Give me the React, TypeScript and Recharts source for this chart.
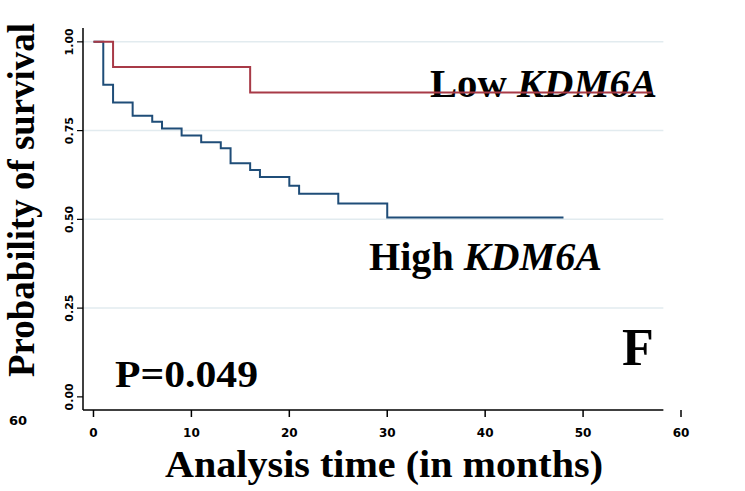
import { LineChart, Line, XAxis, YAxis, ReferenceLine } from "recharts";

// Kaplan-Meier estimates (months, survival probability)
const LOW_TIME = [0, 2, 16, 57];
const LOW_SURV = [1, 0.929, 0.857, 0.857];

const HIGH_TIME = [0, 1, 2, 4, 6, 7, 9, 11, 13, 14, 16, 17, 20, 21, 25, 30, 48];
const HIGH_SURV = [
  1, 0.879, 0.829, 0.792, 0.775, 0.756, 0.736, 0.717, 0.7, 0.658, 0.639, 0.619,
  0.595, 0.572, 0.545, 0.505, 0.505,
];

const MONTH_TICKS = [0, 10, 20, 30, 40, 50, 60];
const SURV_TICKS = [0, 0.25, 0.5, 0.75, 1];
const GRID_LEVELS = [0.25, 0.5, 0.75, 1];

// Stata-style plot region: axis lines sit a little outside the data range
const X_MIN = -1.07;
const X_LINE_END = 58.2;
const Y_MIN = -0.037;
const Y_MAX = 1.039;

const lowData = LOW_TIME.map((t, i) => ({ t, s: LOW_SURV[i] }));
const highData = HIGH_TIME.map((t, i) => ({ t, s: HIGH_SURV[i] }));

const SERIF = '"Liberation Serif", "Times New Roman", serif';
const TICK_FONT = '"DejaVu Sans", sans-serif';

const RED = "#a83a47";
const BLUE = "#1f4d78";

function MonthTick(props: any) {
  const { x, y, payload } = props;
  return (
    <text x={x} y={y + 18} textAnchor="middle" fontFamily={TICK_FONT} fontWeight="bold" fontSize={12} fill="#000">
      {payload.value}
    </text>
  );
}

function SurvTick(props: any) {
  const { x, y, payload } = props;
  const bx = x - 2;
  return (
    <text
      x={bx}
      y={y}
      transform={`rotate(-90, ${bx}, ${y})`}
      textAnchor="middle"
      fontFamily={TICK_FONT}
      fontWeight="bold"
      fontSize={11}
      fill="#000"
    >
      {payload.value.toFixed(2)}
    </text>
  );
}

export default function App() {
  return (
    <div style={{ position: "absolute", left: 0, top: 0, width: 745, height: 491, background: "#fff" }}>
      <LineChart width={745} height={491} margin={{ top: 28, right: 64, bottom: 51, left: 53 }}>
        <XAxis
          type="number"
          dataKey="t"
          domain={[X_MIN, 60]}
          ticks={MONTH_TICKS}
          allowDataOverflow
          axisLine={false}
          tickLine={{ stroke: "#000", strokeWidth: 1.5 }}
          tickSize={7}
          height={30}
          tick={<MonthTick />}
        />
        <YAxis
          type="number"
          domain={[Y_MIN, Y_MAX]}
          ticks={SURV_TICKS}
          allowDataOverflow
          axisLine={{ stroke: "#000", strokeWidth: 1.5 }}
          tickLine={{ stroke: "#000", strokeWidth: 1.2 }}
          tickSize={6}
          width={30}
          tick={<SurvTick />}
        />
        {GRID_LEVELS.map((v) => (
          <ReferenceLine
            key={v}
            segment={[
              { x: X_MIN, y: v },
              { x: X_LINE_END, y: v },
            ]}
            stroke="#e2ebef"
            strokeWidth={1.5}
          />
        ))}
        <ReferenceLine
          segment={[
            { x: X_MIN, y: Y_MIN },
            { x: X_LINE_END, y: Y_MIN },
          ]}
          stroke="#000"
          strokeWidth={1.5}
        />
        <Line
          data={highData}
          dataKey="s"
          type="stepAfter"
          stroke={BLUE}
          strokeWidth={2}
          dot={false}
          isAnimationActive={false}
        />
        <Line
          data={lowData}
          dataKey="s"
          type="stepAfter"
          stroke={RED}
          strokeWidth={2}
          dot={false}
          isAnimationActive={false}
        />

        {/* annotations */}
        <text
          x={34}
          y={200}
          transform="rotate(-90, 34, 200)"
          textAnchor="middle"
          fontFamily={SERIF}
          fontWeight="bold"
          fontSize={38}
          textLength={354}
          lengthAdjust="spacingAndGlyphs"
          fill="#000"
        >
          Probability of survival
        </text>
        <text x={18} y={425} textAnchor="middle" fontFamily={TICK_FONT} fontWeight="bold" fontSize={13} fill="#000">
          60
        </text>
        <text
          x={384}
          y={477}
          textAnchor="middle"
          fontFamily={SERIF}
          fontWeight="bold"
          fontSize={37}
          textLength={438}
          lengthAdjust="spacingAndGlyphs"
          fill="#000"
        >
          Analysis time (in months)
        </text>
        <text x={430} y={97} fontFamily={SERIF} fontWeight="bold" fontSize={40} textLength={227} lengthAdjust="spacingAndGlyphs" fill="#000">
          Low <tspan fontStyle="italic">KDM6A</tspan>
        </text>
        <text x={369} y={270} fontFamily={SERIF} fontWeight="bold" fontSize={40} textLength={233} lengthAdjust="spacingAndGlyphs" fill="#000">
          High <tspan fontStyle="italic">KDM6A</tspan>
        </text>
        <text x={115} y={387} fontFamily={SERIF} fontWeight="bold" fontSize={37} textLength={143} lengthAdjust="spacingAndGlyphs" fill="#000">
          P=0.049
        </text>
        <text x={622} y={365} fontFamily={SERIF} fontWeight="bold" fontSize={52} fill="#000">
          F
        </text>
      </LineChart>
    </div>
  );
}
